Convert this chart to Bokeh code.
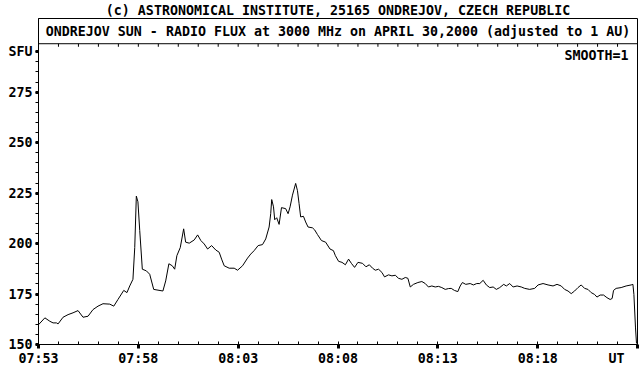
from bokeh.plotting import figure
from bokeh.models import Range1d, FixedTicker, Label, Span
from bokeh.embed import file_html
from bokeh.resources import INLINE

title_text = "(c) ASTRONOMICAL INSTITUTE, 25165 ONDREJOV, CZECH REPUBLIC"
subtitle_text = "ONDREJOV SUN - RADIO FLUX at 3000 MHz on APRIL 30,2000 (adjusted to 1 AU)"
smooth_text = "SMOOTH=1"

# minutes after 07:53 UT
minutes = [0.0, 0.32, 0.57, 0.73, 0.9, 0.98, 1.23, 1.48, 1.73, 1.98, 2.23, 2.48, 2.73, 2.98,
           3.23, 3.57, 3.77, 3.98, 4.27, 4.43, 4.57, 4.73, 4.82, 4.9, 4.98, 5.07, 5.2, 5.4,
           5.57, 5.77, 6.23, 6.37, 6.53, 6.7, 6.82, 6.93, 7.1, 7.27, 7.37, 7.55, 7.8, 7.97,
           8.13, 8.3, 8.47, 8.67, 8.88, 9.05, 9.17, 9.3, 9.55, 9.8, 9.97, 10.22, 10.47, 10.63,
           10.8, 11.0, 11.22, 11.38, 11.55, 11.63, 11.68, 11.77, 11.83, 11.93, 12.05, 12.17,
           12.38, 12.5, 12.6, 12.72, 12.88, 12.97, 13.05, 13.13, 13.27, 13.38, 13.5, 13.72,
           13.83, 13.97, 14.17, 14.38, 14.6, 14.77, 14.87, 15.03, 15.2, 15.37, 15.53, 15.67,
           15.83, 16.0, 16.23, 16.4, 16.57, 16.73, 16.87, 17.03, 17.2, 17.33, 17.53, 17.7,
           17.87, 18.03, 18.2, 18.37, 18.5, 18.62, 18.78, 19.0, 19.2, 19.37, 19.53, 19.7,
           19.87, 20.03, 20.2, 20.37, 20.53, 20.67, 20.83, 21.0, 21.12, 21.23, 21.4, 21.62,
           21.78, 21.95, 22.1, 22.27, 22.43, 22.6, 22.77, 22.93, 23.1, 23.3, 23.43, 23.6,
           23.77, 23.97, 24.18, 24.35, 24.6, 24.85, 25.02, 25.27, 25.52, 25.77, 25.97, 26.18,
           26.35, 26.52, 26.68, 26.85, 27.02, 27.18, 27.35, 27.52, 27.68, 27.85, 27.97, 28.13,
           28.3, 28.47, 28.63, 28.73, 28.8, 28.93, 29.18, 29.43, 29.68, 29.77, 29.82, 29.9,
           29.95]
flux = [159.8, 163.2, 161.5, 160.7, 160.7, 160.2, 163.5, 164.8, 165.7, 166.8, 163.5, 164.0,
        167.3, 169.0, 170.2, 170.0, 169.0, 172.3, 176.8, 175.7, 179.0, 182.3, 198.0, 223.5,
        220.7, 206.5, 187.3, 186.5, 184.8, 177.3, 176.5, 181.5, 190.0, 189.0, 187.3, 194.0,
        198.0, 207.3, 200.7, 200.2, 201.8, 204.3, 201.5, 199.8, 197.3, 199.0, 196.8, 195.7,
        192.3, 189.0, 187.8, 187.8, 186.8, 189.0, 192.8, 194.8, 196.5, 199.0, 199.5, 202.3,
        208.2, 214.8, 221.8, 218.2, 211.8, 212.8, 209.5, 217.8, 217.3, 214.8, 218.2, 224.0,
        229.8, 226.2, 219.8, 213.2, 213.5, 210.7, 208.2, 207.8, 206.8, 204.5, 201.5, 200.7,
        197.3, 196.5, 194.0, 191.2, 190.7, 189.5, 192.3, 190.2, 188.2, 190.7, 190.2, 188.5,
        189.5, 187.8, 186.8, 187.3, 185.7, 183.5, 184.5, 184.0, 184.3, 182.8, 182.3, 183.2,
        182.8, 178.5, 179.8, 180.7, 181.2, 180.2, 178.5, 179.0, 178.5, 178.8, 178.2, 177.3,
        177.7, 177.8, 176.8, 176.2, 179.0, 180.7, 179.8, 180.2, 179.5, 180.2, 180.2, 181.8,
        179.5, 178.2, 178.5, 177.3, 178.2, 179.8, 179.0, 180.2, 178.5, 179.0, 178.5, 177.8,
        177.3, 177.8, 179.5, 180.2, 179.5, 179.0, 179.8, 179.0, 177.3, 176.5, 175.2, 176.5,
        178.2, 179.5, 177.8, 177.3, 175.7, 174.8, 173.5, 174.5, 174.5, 173.2, 172.3, 172.8,
        176.8, 177.8, 178.2, 179.0, 179.5, 179.8, 174.8, 158.2, 150.5]

x_tick_pos = [0, 5, 10, 15, 20, 25, 30]
x_tick_labels = ["07:53", "07:58", "08:03", "08:08", "08:13", "08:18", "UT\u00a0\u00a0"]
x_minor_pos = list(range(0, 31))
y_tick_pos = [150, 175, 200, 225, 250, 275, 295]
y_tick_labels = ["150", "175", "200", "225", "250", "275", "SFU"]
y_minor_pos = list(range(150, 300, 5))

FONT = "DejaVu Sans Mono"
FS = "13.3px"

Y_MIN, Y_PLOT_TOP = 150, 299
PLOT_PX, BOX_PX = 298, 25
Y_END = Y_PLOT_TOP + BOX_PX * (Y_PLOT_TOP - Y_MIN) / PLOT_PX

p = figure(width=640, height=368, output_backend="svg", toolbar_location=None,
           x_range=Range1d(0, 30), y_range=Range1d(Y_MIN, Y_END),
           min_border_left=38, min_border_right=3, min_border_bottom=0, min_border_top=0)
p.background_fill_color = "white"
p.border_fill_color = "white"
p.outline_line_color = "black"
p.outline_line_width = 1
p.grid.visible = False

p.title.text = title_text
p.title.align = "center"
p.title.text_font = FONT
p.title.text_font_style = "bold"
p.title.text_font_size = FS
p.title.text_color = "black"
p.title.standoff = 1
p.title.offset = 0

# axes
xa = p.xaxis[0]
xa.ticker = FixedTicker(ticks=x_tick_pos, minor_ticks=x_minor_pos)
xa.major_label_overrides = {k: v for k, v in zip(x_tick_pos, x_tick_labels)}
xa.major_tick_in = 0
xa.major_tick_out = 4
xa.major_tick_line_width = 3
xa.minor_tick_in = 3
xa.minor_tick_out = 0
xa.major_label_standoff = 2

ya = p.yaxis[0]
ya.ticker = FixedTicker(ticks=y_tick_pos, minor_ticks=y_minor_pos)
ya.major_label_overrides = {k: v for k, v in zip(y_tick_pos, y_tick_labels)}
ya.major_tick_in = 0
ya.major_tick_out = 3
ya.major_tick_line_width = 3
ya.minor_tick_in = 0
ya.minor_tick_out = 3
ya.major_label_standoff = 3

for ax in (xa, ya):
    ax.axis_line_color = "black"
    ax.major_tick_line_color = "black"
    ax.minor_tick_line_color = "black"
    ax.major_label_text_font = FONT
    ax.major_label_text_font_style = "bold"
    ax.major_label_text_font_size = FS
    ax.major_label_text_color = "black"
    ax.axis_label = None
    ax.axis_label_standoff = 0

# subtitle box
p.add_layout(Span(location=Y_PLOT_TOP, dimension="width", line_color="black", line_width=1))
p.add_layout(Label(x=15, y=(Y_PLOT_TOP + Y_END) / 2, text=subtitle_text, text_align="center",
                   text_baseline="middle", text_font=FONT, text_font_style="bold",
                   text_font_size=FS, text_color="black"))
p.add_layout(Label(x=30, y=293.3, x_offset=-9, text=smooth_text, text_align="right",
                   text_baseline="middle", text_font=FONT, text_font_style="bold",
                   text_font_size=FS, text_color="black"))

# top minute ticks below the subtitle box
tick_len = 3 * (Y_PLOT_TOP - Y_MIN) / PLOT_PX
p.segment(x0=x_minor_pos, y0=[Y_PLOT_TOP] * len(x_minor_pos), x1=x_minor_pos,
          y1=[Y_PLOT_TOP - tick_len] * len(x_minor_pos), line_color="black", line_width=1)

p.line(minutes, flux, line_color="black", line_width=1)

open("out.html", "w").write(file_html(p, INLINE))
